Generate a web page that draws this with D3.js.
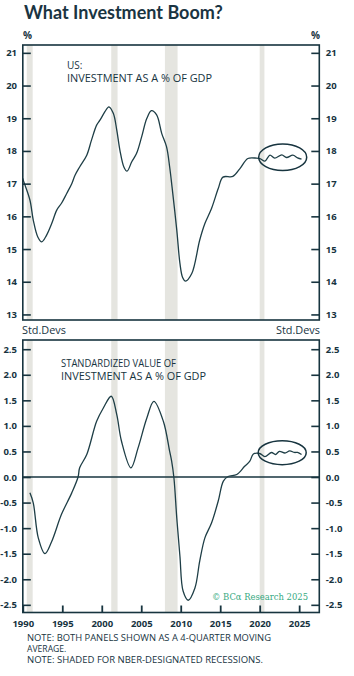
<!DOCTYPE html>
<html><head><meta charset="utf-8">
<script src="https://cdn.jsdelivr.net/npm/d3@7"></script>
<style>
html,body{margin:0;padding:0;background:#fff;}
svg{display:block;}
</style></head>
<body>
<svg id="c" width="354" height="676"></svg>
<script>
// ---------- DATA ----------
const usYears = [1990.0,1990.07,1990.9,1991.33,1991.9,1992.4,1993.0,1993.66,1994.3,1994.9,1995.56,1996.2,1996.6,1997.2,1998.1,1998.7,1999.35,1999.77,2000.4,2000.9,2001.46,2001.9,2002.3,2002.8,2003.2,2003.8,2004.4,2005.05,2005.7,2006.3,2006.95,2007.6,2008.2,2008.6,2008.9,2009.5,2009.9,2010.24,2010.6,2011.4,2012.4,2013.06,2013.9,2014.75,2015.35,2016.6,2017.5,2018.5,2019.6,2020.1,2020.66,2021.3,2021.9,2022.8,2023.4,2024.2,2024.8,2025.3];
const usValues = [17.16,17.1,16.5,15.88,15.37,15.22,15.42,15.78,16.19,16.4,16.7,17.0,17.25,17.51,17.87,18.33,18.79,18.94,19.2,19.35,19.15,18.64,18.02,17.51,17.38,17.67,17.92,18.43,18.99,19.23,19.1,18.53,18.13,17.51,16.9,15.58,14.56,14.13,14.02,14.25,15.27,15.78,16.24,16.85,17.2,17.22,17.46,17.77,17.78,17.76,17.69,17.87,17.78,17.88,17.8,17.87,17.79,17.75];

const stdYears = [1990.9,1991.33,1991.96,1992.8,1993.66,1994.9,1996.2,1997.0,1997.2,1998.1,1999.35,2000.2,2001.2,2001.9,2002.5,2003.7,2004.6,2005.7,2006.6,2007.8,2008.6,2008.85,2009.14,2009.5,2009.9,2010.3,2010.95,2011.8,2012.4,2013.06,2013.9,2014.75,2015.4,2016.0,2017.1,2018.1,2018.75,2019.2,2020.0,2020.66,2021.5,2022.0,2022.5,2023.2,2023.8,2024.4,2024.8,2025.3];
const stdValues = [-0.31,-0.51,-1.19,-1.50,-1.26,-0.73,-0.31,0.0,0.18,0.44,1.09,1.35,1.58,1.22,0.70,0.18,0.57,1.15,1.48,1.09,0.50,0.31,-0.02,-0.80,-1.55,-2.23,-2.41,-2.17,-1.65,-1.19,-0.90,-0.47,-0.08,0.01,0.05,0.21,0.31,0.45,0.46,0.40,0.48,0.44,0.50,0.47,0.51,0.48,0.48,0.44];

const recessionStarts = [1990.5, 2001.2, 2008.0, 2020.0];
const recessionEnds   = [1991.25, 2002.0, 2009.6, 2020.6];

const topTicks = [13,14,15,16,17,18,19,20,21];
const botTicks = [-2.5,-2.0,-1.5,-1.0,-0.5,0.0,0.5,1.0,1.5,2.0,2.5];
const xTicks = [1990,1995,2000,2005,2010,2015,2020,2025];

const titleText = "What Investment Boom?";
const topLabel = ["US:", "INVESTMENT AS A % OF GDP"];
const botLabel = ["STANDARDIZED VALUE OF", "INVESTMENT AS A % OF GDP"];
const notes = ["NOTE: BOTH PANELS SHOWN AS A 4-QUARTER MOVING", "AVERAGE.", "NOTE: SHADED FOR NBER-DESIGNATED RECESSIONS."];

// ---------- STYLE ----------
const ink = "#17343f";
const lineCol = "#1e3e46";
const shade = "#e5e5e0";
const green = "#36a97f";
const L = 22.8, R = 319.3;

const svg = d3.select("#c");
const x = d3.scaleLinear().domain([1990, 2027.55]).range([L, R]);
const yTop = d3.scaleLinear().domain([12.83, 21.24]).range([320, 45]);
const yBot = d3.scaleLinear().domain([-2.65, 2.68]).range([612.5, 340]);

svg.append("text").attr("x", 24).attr("y", 19)
  .attr("font-family", "Lato, 'Open Sans', sans-serif").attr("font-weight", 700)
  .attr("font-size", 18).attr("fill", "#1a3442").text(titleText);

function panel(y, ticks, fmt, years, vals, zero) {
  const [b, t] = y.range();
  const g = svg.append("g");
  recessionStarts.forEach((s, i) => {
    g.append("rect").attr("x", x(s)).attr("y", t).attr("width", x(recessionEnds[i]) - x(s))
      .attr("height", b - t).attr("fill", shade);
  });
  if (zero) {
    g.append("line").attr("x1", L).attr("x2", R).attr("y1", y(0)).attr("y2", y(0))
      .attr("stroke", ink).attr("stroke-width", 1.3);
  }
  const line = d3.line().x((d, i) => x(years[i])).y((d) => y(d)).curve(d3.curveCatmullRom.alpha(0.5));
  g.append("path").attr("d", line(vals)).attr("fill", "none").attr("stroke", lineCol).attr("stroke-width", 1.3);
  // frame
  g.append("rect").attr("x", L).attr("y", t).attr("width", R - L).attr("height", b - t)
    .attr("fill", "none").attr("stroke", ink).attr("stroke-width", 1.6);
  const la = d3.axisLeft(y).tickValues(ticks).tickSize(-8).tickFormat(fmt);
  const ga = g.append("g").attr("transform", `translate(${L},0)`).call(la);
  const ra = d3.axisRight(y).tickValues(ticks).tickSize(-8).tickFormat(fmt);
  const gb = g.append("g").attr("transform", `translate(${R},0)`).call(ra);
  [ga, gb].forEach(a => {
    a.select(".domain").remove();
    a.selectAll("line").attr("stroke", ink).attr("stroke-width", 1.6);
    a.selectAll("text").attr("fill", ink).attr("font-family", "'Open Sans', sans-serif")
      .attr("font-weight", 700).attr("font-size", 9.5);
  });
  ga.selectAll("text").attr("x", -5.8);
  gb.selectAll("text").attr("x", 6.5);
  return g;
}

const fmtBot = d => d3.format(".1f")(d).replace("\u2212", "-");
const gTop = panel(yTop, topTicks, d3.format("d"), usYears, usValues, false);
const gBot = panel(yBot, botTicks, fmtBot, stdYears, stdValues, true);

// x axis bottom
const xa = d3.axisBottom(x).tickValues(xTicks).tickSize(-7).tickFormat(d3.format("d"));
const gx = svg.append("g").attr("transform", `translate(0,612.5)`).call(xa);
gx.select(".domain").remove();
gx.selectAll("line").attr("stroke", ink).attr("stroke-width", 1.8);
gx.selectAll("text").attr("fill", ink).attr("font-family", "'Open Sans', sans-serif")
  .attr("font-weight", 700).attr("font-size", 9.5).attr("dy", "0.71em").attr("y", 8);

const lab = (t, xx, yy, anchor, size, weight) => svg.append("text").attr("x", xx).attr("y", yy)
  .attr("text-anchor", anchor || "start").attr("font-family", "'Open Sans', sans-serif")
  .attr("font-size", size || 10).attr("font-weight", weight || 400).attr("fill", ink).text(t);
lab("%", 23, 39, "start", 10, 700);
lab("%", 320, 39, "end", 10, 700);
lab("Std.Devs", 22, 334, "start", 10.5, 500).attr("textLength", 44).attr("lengthAdjust", "spacingAndGlyphs");
lab("Std.Devs", 320, 334, "end", 10.5, 500).attr("textLength", 44).attr("lengthAdjust", "spacingAndGlyphs");

lab(topLabel[0], 67, 69, "start", 10, 500);
lab(topLabel[1], 67, 82, "start", 10, 500).attr("textLength", 145).attr("lengthAdjust", "spacingAndGlyphs");
lab(botLabel[0], 61, 367, "start", 10, 500).attr("textLength", 115).attr("lengthAdjust", "spacingAndGlyphs");
lab(botLabel[1], 61, 380, "start", 10, 500).attr("textLength", 145).attr("lengthAdjust", "spacingAndGlyphs");

gTop.append("ellipse").attr("cx", 282.7).attr("cy", 157.3).attr("rx", 24).attr("ry", 13.3)
  .attr("fill", "none").attr("stroke", ink).attr("stroke-width", 1.5);
gBot.append("ellipse").attr("cx", 282.2).attr("cy", 452.7).attr("rx", 24).attr("ry", 12)
  .attr("fill", "none").attr("stroke", ink).attr("stroke-width", 1.5);

svg.append("text").attr("x", 212).attr("y", 600).attr("font-family", "'DejaVu Serif', 'Liberation Serif', serif")
  .attr("font-size", 9.5).attr("fill", green).attr("textLength", 96).attr("lengthAdjust", "spacingAndGlyphs")
  .text("© BCα Research 2025");

const nl = [[notes[0], 641, 244], [notes[1], 652, null], [notes[2], 663, 236]];
nl.forEach(([t, yy, w]) => {
  const e = lab(t, 27, yy, "start", 8.6, 500);
  if (w) e.attr("textLength", w).attr("lengthAdjust", "spacingAndGlyphs");
});
</script>
</body></html>
